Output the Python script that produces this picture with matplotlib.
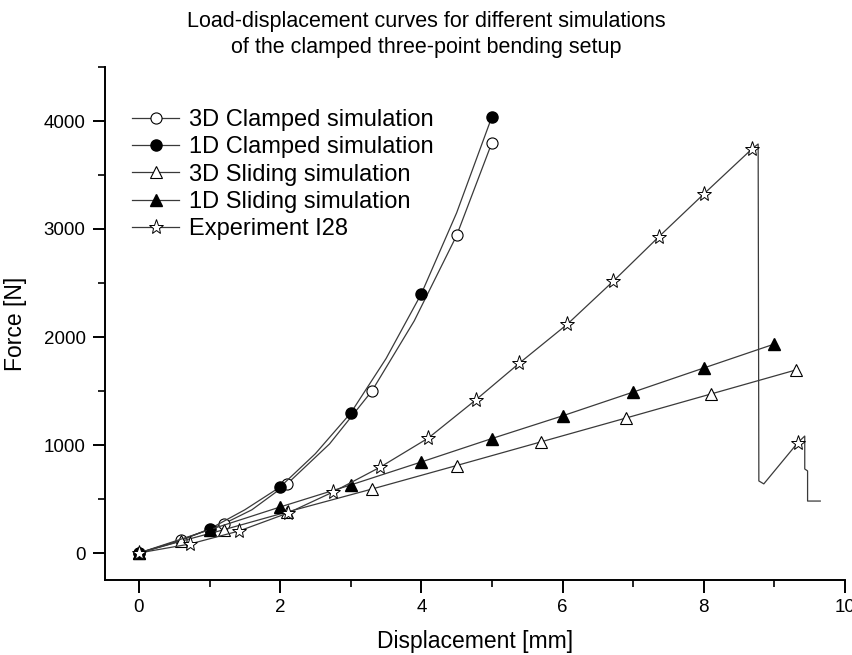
import numpy as np
import matplotlib
matplotlib.use("Agg")
import matplotlib.pyplot as plt
from matplotlib.ticker import MultipleLocator

plt.rcParams.update({
    "font.family": "sans-serif",
    "font.sans-serif": ["Liberation Sans", "DejaVu Sans"],
})

# 3D clamped simulation (open circles), line read between markers too
x_3d_cl = [0, 0.6, 1.2, 1.6, 2.1, 2.7, 3.3, 3.9, 4.5, 5.0]
f_3d_cl = [0, 120, 270, 400, 640, 1010, 1500, 2150, 2940, 3800]
mark_3d_cl = [0, 1, 2, 4, 6, 8, 9]

# 1D clamped simulation (filled circles), curve read at half steps
x_1d_cl = [0, 0.5, 1.0, 1.5, 2.0, 2.5, 3.0, 3.5, 4.0, 4.5, 5.0]
f_1d_cl = [0, 95, 222, 400, 611, 920, 1296, 1800, 2400, 3150, 4040]
mark_1d_cl = [0, 2, 4, 6, 8, 10]

# 3D sliding simulation (open triangles)
x_3d_sl = [0, 0.6, 1.2, 2.1, 3.3, 4.5, 5.7, 6.9, 8.1, 9.3]
f_3d_sl = [0, 110, 215, 380, 592, 810, 1030, 1250, 1472, 1694]

# 1D sliding simulation (filled triangles)
x_1d_sl = [0, 1, 2, 3, 4, 5, 6, 7, 8, 9]
f_1d_sl = [0, 215, 426, 630, 843, 1060, 1270, 1490, 1713, 1935]

# Experiment I28 (stars + failure tail)
x_exp = [0, 0.72, 1.42, 2.11, 2.75, 3.42, 4.1, 4.77, 5.39, 6.07, 6.72, 7.36, 8.0, 8.68,
         8.77, 8.78, 8.85, 9.33, 9.43, 9.43, 9.47, 9.47, 9.65]
f_exp = [0, 83, 204, 370, 565, 796, 1065, 1417, 1759, 2120, 2518, 2926, 3324, 3740,
         3787, 667, 640, 1020, 1083, 778, 760, 481, 481]
mark_exp = list(range(14)) + [17]

title = "Load-displacement curves for different simulations\nof the clamped three-point bending setup"

fig = plt.figure(figsize=(8.53, 6.55), dpi=100)
ax = fig.add_axes([105 / 853, 75 / 655, 740 / 853, 513 / 655])

lc = "#3a3a3a"
lw = 0.9
ax.plot(x_3d_cl, f_3d_cl, color=lc, lw=lw, marker="o", ms=8, mfc="white", mec="k", mew=0.8,
        markevery=mark_3d_cl, label="3D Clamped simulation")
ax.plot(x_1d_cl, f_1d_cl, color=lc, lw=lw, marker="o", ms=8, mfc="k", mec="k",
        markevery=mark_1d_cl, label="1D Clamped simulation")
ax.plot(x_3d_sl, f_3d_sl, color=lc, lw=lw, marker="^", ms=9, mfc="white", mec="k", mew=0.8,
        label="3D Sliding simulation")
ax.plot(x_1d_sl, f_1d_sl, color=lc, lw=lw, marker="^", ms=9, mfc="k", mec="k",
        label="1D Sliding simulation")
ax.plot(x_exp, f_exp, color=lc, lw=lw, marker="*", ms=11, mfc="white", mec="k", mew=0.7,
        markevery=mark_exp, label="Experiment I28")

ax.set_xlim(-0.48, 10)
ax.set_ylim(-250, 4500)
ax.xaxis.set_major_locator(MultipleLocator(2))
ax.xaxis.set_minor_locator(MultipleLocator(1))
ax.yaxis.set_major_locator(MultipleLocator(1000))
ax.yaxis.set_minor_locator(MultipleLocator(500))
ax.tick_params(which="major", direction="out", length=9, width=1.4, labelsize=13.5, pad=5)
ax.tick_params(which="minor", direction="out", length=5, width=1.2)
for s in ["top", "right"]:
    ax.spines[s].set_visible(False)
for s in ["left", "bottom"]:
    ax.spines[s].set_linewidth(1.4)

ax.set_xlabel("Displacement [mm]", fontsize=16.5, labelpad=10)
ax.set_ylabel("Force [N]", fontsize=16.5, labelpad=12)

leg = ax.legend(loc="upper left", bbox_to_anchor=(0.024, 0.936), frameon=False, fontsize=17,
                handlelength=2.0, handletextpad=0.42, labelspacing=0.22, borderaxespad=0)

fig.text(0.5, 0.983, title, ha="center", va="top", fontsize=15.5, linespacing=1.3)

fig.savefig("out.png", dpi=100)
